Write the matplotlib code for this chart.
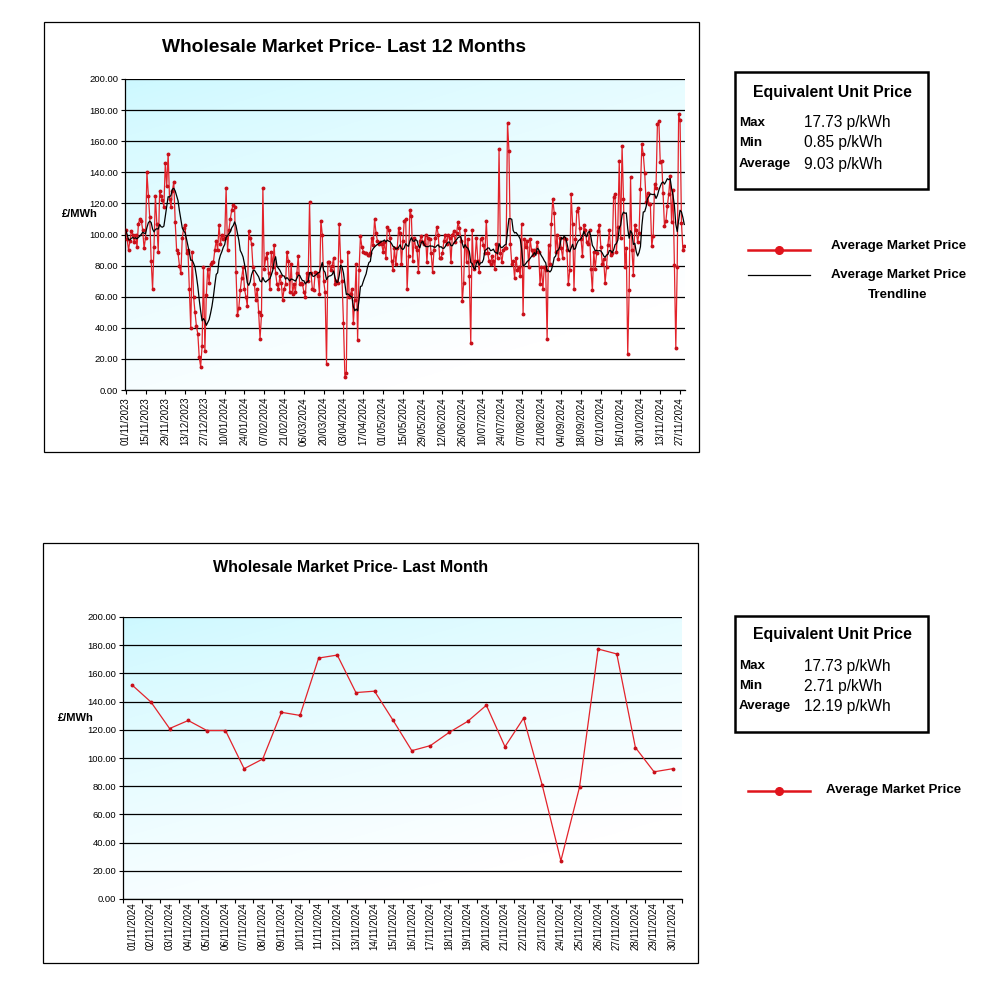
import datetime as dt
import numpy as np
import pandas as pd
import matplotlib
matplotlib.use("Agg")
import matplotlib.pyplot as plt
from matplotlib.lines import Line2D
from matplotlib.patches import Rectangle

plt.rcParams['font.family'] = ['Liberation Sans', 'DejaVu Sans']

# ---------------- data ----------------
# daily average market price (GBP/MWh), 01/11/2023 - 30/11/2024
prices_nov23_jan24 = [103, 97, 90, 96, 102, 100, 95, 100, 92, 107,
                      110, 109, 103, 91, 98, 140, 125, 111, 83, 65,
                      92, 125, 107, 89, 128, 125, 122, 118, 146, 131,
                      152, 123, 118, 128, 134, 108, 90, 88, 80, 75,
                      98, 104, 106, 88, 90, 65, 40, 89, 60, 50,
                      41, 36, 21, 15, 28, 79, 25, 61, 78, 69,
                      81, 82, 82, 90]
prices_jan24_mar24 = [96, 90, 106, 94, 100, 97, 98, 130, 90, 103,
                      110, 116, 119, 118, 76, 48, 53, 64, 72, 79,
                      65, 60, 54, 102, 98, 94, 79, 68, 58, 65,
                      50, 33, 48, 130, 78, 85, 88, 75, 65, 89,
                      79, 93, 75, 68, 65, 73, 69, 58, 65, 68,
                      89, 83, 63, 81, 62, 68, 63, 75, 86, 68,
                      69, 68, 63, 60, 75, 70]
prices_mar24_may24 = [121, 75, 65, 64, 76, 75, 73, 62, 109, 100,
                      70, 63, 17, 82, 82, 77, 80, 85, 68, 70,
                      69, 107, 83, 70, 43, 8.5, 11, 89, 60, 62,
                      65, 43, 58, 81, 32, 77, 99, 92, 89, 88,
                      88, 87, 87, 88, 98, 93, 110, 101, 96, 94,
                      95, 94, 89, 95, 85, 105, 103, 98, 83, 77,
                      91, 81, 91, 104, 101, 81, 96, 109]
prices_may24_jul24 = [110, 65, 86, 116, 112, 83, 98, 92, 90, 76,
                      96, 99, 95, 94, 100, 82, 98, 97, 88, 76,
                      90, 98, 105, 100, 85, 85, 88, 96, 100, 94,
                      100, 98, 82, 100, 102, 95, 101, 108, 104, 96,
                      57, 69, 103, 82, 97, 73, 30, 103, 78, 83,
                      98, 83, 76, 97, 98, 93, 88, 109, 88, 83,
                      81, 86, 83, 78, 94, 85]
prices_jul24_sep24 = [155, 88, 82, 90, 91, 91, 172, 154, 94, 81,
                      83, 72, 85, 77, 79, 73, 107, 49, 97, 92,
                      96, 79, 97, 90, 87, 90, 89, 95, 89, 68,
                      79, 65, 79, 77, 33, 93, 81, 107, 123, 114,
                      89, 100, 84, 98, 91, 85, 98, 97, 90, 68,
                      77, 126, 107, 65, 97, 115, 117, 104, 97, 86,
                      106, 103, 95, 94]
prices_sep24_oct24 = [103, 78, 64, 89, 78, 88, 102, 106, 92, 81,
                      84, 69, 79, 93, 103, 87, 88, 124, 126, 89,
                      105, 147, 98, 157, 123, 79, 91, 23, 64, 137,
                      90, 74, 106, 103, 95, 101, 129, 158]
# last month (November 2024)
month_prices = [151.6, 139.7, 120.9, 126.6, 119.5, 119.5, 92.4, 99.3, 132.4, 130.2,
                170.9, 173.0, 146.4, 147.4, 126.6, 105.2, 108.8, 118.1, 126.0, 137.4,
                108.0, 128.3, 80.7, 27.1, 79.3, 177.3, 173.8, 107.4, 90.2, 92.4]

year_prices = (prices_nov23_jan24 + prices_jan24_mar24 + prices_mar24_may24 +
               prices_may24_jul24 + prices_jul24_sep24 + prices_sep24_oct24 +
               month_prices)
year_start = dt.date(2023, 11, 1)
year_dates = [year_start + dt.timedelta(days=i) for i in range(len(year_prices))]
month_dates = [dt.date(2024, 11, d) for d in range(1, 31)]
trend_period = 10
trend = pd.Series(year_prices).rolling(trend_period, min_periods=1).mean().to_numpy()

year_stats = [("Max", "17.73 p/kWh"), ("Min", "0.85 p/kWh"), ("Average", "9.03 p/kWh")]
month_stats = [("Max", "17.73 p/kWh"), ("Min", "2.71 p/kWh"), ("Average", "12.19 p/kWh")]
y_ticks = list(range(0, 201, 20))

# ---------------- layout ----------------
W = H = 999
fig = plt.figure(figsize=(W / 100, H / 100), dpi=100)
fig.patch.set_facecolor('white')


def rect(x0, y0, x1, y1):
    return [x0 / W, 1 - y1 / H, (x1 - x0) / W, (y1 - y0) / H]


def fx(x):
    return x / W


def fy(y):
    return 1 - y / H


def gradient(ax):
    n = 300
    X, Y = np.meshgrid(np.linspace(0, 1, n), np.linspace(0, 1, n))
    t = np.clip((0.55 * X + 1.0 * Y) / 1.25, 0, 1) ** 0.8
    c0 = np.array([0.80, 0.975, 1.0])
    c1 = np.array([1.0, 1.0, 1.0])
    img = c0[None, None, :] * (1 - t[..., None]) + c1[None, None, :] * t[..., None]
    ax.imshow(img, extent=[0, 1, 0, 1], transform=ax.transAxes, aspect='auto',
              zorder=0, interpolation='bilinear')


def style_axes(ax, n, tick_idx, tick_lbls):
    gradient(ax)
    ax.set_ylim(0, 200)
    ax.set_xlim(-0.5, n - 0.5)
    ax.set_yticks(y_ticks)
    ax.set_yticklabels([f"{v:.2f}" for v in y_ticks], fontsize=6.8)
    ax.set_xticks(tick_idx)
    ax.set_xticklabels(tick_lbls, rotation=90, fontsize=7)
    ax.yaxis.grid(True, color='black', lw=0.9)
    ax.set_axisbelow(False)
    for s in ['top', 'right']:
        ax.spines[s].set_visible(False)
    for s in ['left', 'bottom']:
        ax.spines[s].set_color('black')
        ax.spines[s].set_linewidth(0.9)
    ax.tick_params(axis='both', direction='out', length=3, width=0.8, pad=2, colors='black')
    ax.set_facecolor('none')


# frames
fig.add_artist(Rectangle((fx(44), fy(452)), (699 - 44) / W, (452 - 22) / H,
                         transform=fig.transFigure, fill=False, ec='black', lw=0.9))
fig.add_artist(Rectangle((fx(43), fy(963)), (698 - 43) / W, (963 - 543) / H,
                         transform=fig.transFigure, fill=False, ec='black', lw=0.9))

RED = '#e3232b'

# ---- top chart ----
ax1 = fig.add_axes(rect(125, 79, 685, 390))
n1 = len(year_prices)
idx1 = np.arange(n1)
ax1.plot(idx1, year_prices, color=RED, lw=0.9, marker='o', ms=1.8,
         mfc='#c8101a', mec='#c8101a', zorder=3)
ax1.plot(idx1, trend, color='black', lw=0.9, zorder=4)
tick_idx1 = list(range(0, n1, 14))
style_axes(ax1, n1, tick_idx1, [year_dates[i].strftime('%d/%m/%Y') for i in tick_idx1])

fig.text(fx(344), fy(48), "Wholesale Market Price- Last 12 Months", ha='center',
         va='center', fontsize=13.8, fontweight='bold')
fig.text(fx(80), fy(214), "£/MWh", ha='center', va='center', fontsize=8, fontweight='bold')

# ---- bottom chart ----
ax2 = fig.add_axes(rect(123, 617, 682, 899))
n2 = len(month_prices)
idx2 = np.arange(n2)
ax2.plot(idx2, month_prices, color=RED, lw=0.9, marker='o', ms=1.8,
         mfc='#c8101a', mec='#c8101a', zorder=3)
style_axes(ax2, n2, list(idx2), [d.strftime('%d/%m/%Y') for d in month_dates])
ax2.set_xticks(np.arange(-0.5, n2, 1.0), minor=True)
ax2.tick_params(axis='x', which='major', length=0)
ax2.tick_params(axis='x', which='minor', direction='out', length=3, width=0.8)

fig.text(fx(351), fy(567), "Wholesale Market Price- Last Month", ha='center',
         va='center', fontsize=11.5, fontweight='bold')
fig.text(fx(76), fy(718), "£/MWh", ha='center', va='center', fontsize=8, fontweight='bold')


# ---- stats boxes ----
def stats_box(y_top, y_bot, title_y, row_ys, stats):
    fig.add_artist(Rectangle((fx(735), fy(y_bot)), (928 - 735) / W, (y_bot - y_top) / H,
                             transform=fig.transFigure, fill=False, ec='black', lw=1.8))
    fig.text(fx(832), fy(title_y), "Equivalent Unit Price", ha='center', va='center',
             fontsize=11.4, fontweight='bold')
    for (lab, val), yy in zip(stats, row_ys):
        fig.text(fx(739), fy(yy), lab, ha='left', va='center', fontsize=9.6, fontweight='bold')
        fig.text(fx(804), fy(yy), val, ha='left', va='center', fontsize=11.2)


stats_box(72, 189, 92, [123, 143, 164], year_stats)
stats_box(616, 732, 635, [666, 686, 706], month_stats)


# ---- legends ----
def legend_line(y, color, marker):
    fig.add_artist(Line2D([fx(748), fx(810)], [fy(y), fy(y)], transform=fig.transFigure,
                          color=color, lw=1.8 if marker else 0.9))
    if marker:
        fig.add_artist(Line2D([fx(779)], [fy(y)], transform=fig.transFigure, color=color,
                              marker='o', ms=5.5, lw=0))


LEG_FS = 9.6
legend_line(250, '#e0141c', True)
fig.text(fx(831), fy(246), "Average Market Price", ha='left', va='center', fontsize=LEG_FS,
         fontweight='bold')
legend_line(275, 'black', False)
fig.text(fx(831), fy(275), "Average Market Price", ha='left', va='center', fontsize=LEG_FS,
         fontweight='bold')
fig.text(fx(898), fy(295), "Trendline", ha='center', va='center', fontsize=LEG_FS,
         fontweight='bold')

legend_line(791, '#e0141c', True)
fig.text(fx(826), fy(790), "Average Market Price", ha='left', va='center', fontsize=LEG_FS,
         fontweight='bold')

fig.savefig("out.png", dpi=100, facecolor='white')
